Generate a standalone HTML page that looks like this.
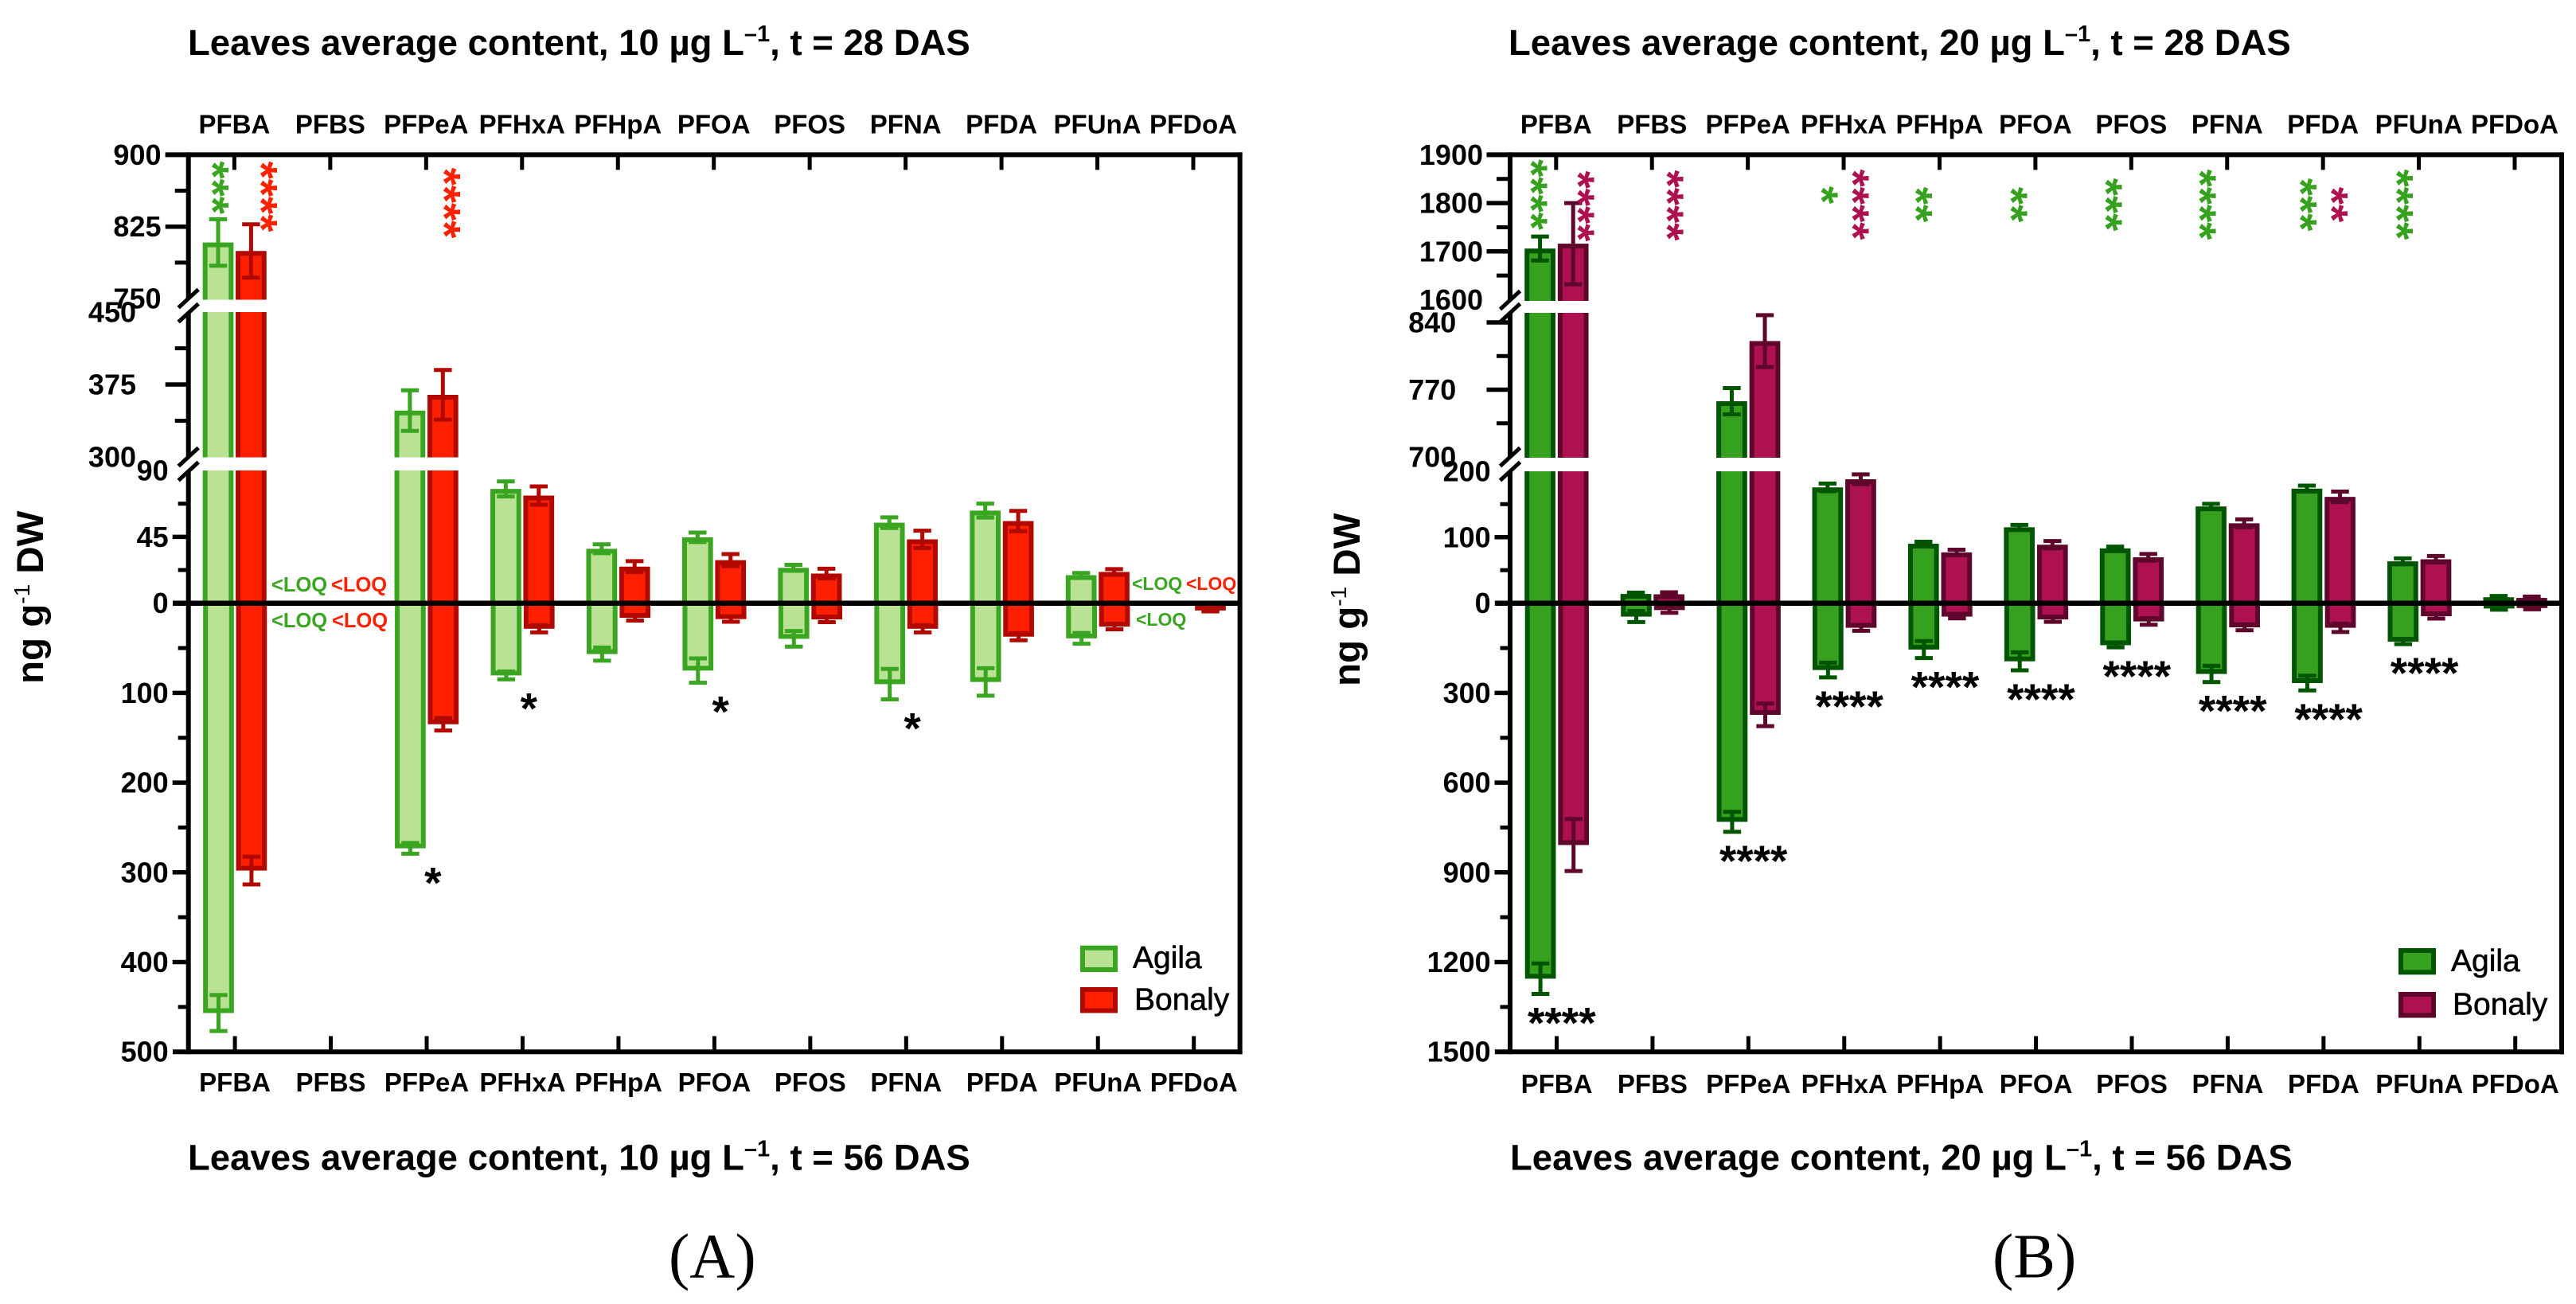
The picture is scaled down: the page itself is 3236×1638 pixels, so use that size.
<!DOCTYPE html>
<html lang="en">
<head>
<meta charset="utf-8">
<title>Leaves average content of PFAS</title>
<style>
html,body{margin:0;padding:0;background:#fff;}
svg{display:block;}
text{font-family:"Liberation Sans",Arial,sans-serif;}
.title{font-size:45.5px;font-weight:bold;fill:#000;}
.ylab{font-size:47.5px;font-weight:bold;fill:#000;}
.panel{font-family:"Liberation Serif",serif;font-size:79px;fill:#000;}
.leg{font-size:39px;fill:#000;stroke:#000;stroke-width:.6px;}
.loq{font-size:25.5px;font-weight:bold;}
.loqs{font-size:23px;font-weight:bold;}
</style>
</head>
<body>
<svg id="chart" xmlns="http://www.w3.org/2000/svg" width="3236" height="1638" viewBox="0 0 3236 1638">
<rect x="0" y="0" width="3236" height="1638" fill="#fff"/>
<g id="panelA"></g>
<g id="panelB"></g>

<text class="title" x="236" y="69">Leaves average content, 10 µg L<tspan dy="-17" font-size="29">–1</tspan><tspan dy="17">, t = 28 DAS</tspan></text>
<text class="title" x="236" y="1469.5">Leaves average content, 10 µg L<tspan dy="-17" font-size="29">–1</tspan><tspan dy="17">, t = 56 DAS</tspan></text>
<text class="title" x="1895" y="69">Leaves average content, 20 µg L<tspan dy="-17" font-size="29">–1</tspan><tspan dy="17">, t = 28 DAS</tspan></text>
<text class="title" x="1897" y="1469.5">Leaves average content, 20 µg L<tspan dy="-17" font-size="29">–1</tspan><tspan dy="17">, t = 56 DAS</tspan></text>

<text class="ylab" transform="translate(54 859) rotate(-90)">ng g<tspan dy="-17" font-size="28" font-weight="normal">-1</tspan><tspan dy="17"> DW</tspan></text>
<text class="ylab" transform="translate(1708 862) rotate(-90)">ng g<tspan dy="-17" font-size="28" font-weight="normal">-1</tspan><tspan dy="17"> DW</tspan></text>

<text class="panel" x="840" y="1604.5">(A)</text>
<text class="panel" x="2503" y="1604.5">(B)</text>

<g>
<text class="loq" x="341" y="743" fill="#3aa520">&lt;LOQ</text>
<text class="loq" x="416" y="743" fill="#ff2000">&lt;LOQ</text>
<text class="loq" x="341" y="788" fill="#3aa520">&lt;LOQ</text>
<text class="loq" x="417" y="788" fill="#ff2000">&lt;LOQ</text>
<text class="loqs" x="1422" y="741" fill="#3aa520">&lt;LOQ</text>
<text class="loqs" x="1490" y="741" fill="#ff2000">&lt;LOQ</text>
<text class="loqs" x="1427" y="786" fill="#3aa520">&lt;LOQ</text>
</g>

<g>
<rect x="1360" y="1190.7" width="41" height="27.3" fill="#b9e295" stroke="#3aa520" stroke-width="6"/>
<text class="leg" x="1423" y="1216">Agila</text>
<rect x="1360" y="1243" width="41" height="26.5" fill="#ff2000" stroke="#b10900" stroke-width="6"/>
<text class="leg" x="1425" y="1268.5">Bonaly</text>
</g>
<g>
<rect x="3016" y="1194" width="41" height="27.3" fill="#36a11f" stroke="#005500" stroke-width="6"/>
<text class="leg" x="3079" y="1220">Agila</text>
<rect x="3016" y="1249" width="41" height="26.5" fill="#ae1150" stroke="#5f062d" stroke-width="6"/>
<text class="leg" x="3081" y="1274.5">Bonaly</text>
</g>
</svg>

<script>
// ---------- data (ng/g DW) ----------
const categories = ['PFBA','PFBS','PFPeA','PFHxA','PFHpA','PFOA','PFOS','PFNA','PFDA','PFUnA','PFDoA'];

// Panel A, 10 ug/L
const a28Agila     = [808.5, null, 348, 77.5, 36.9, 44.7, 24, 54.6, 62.8, 19, null];
const a28AgilaErr  = [24.2, null, 21, 5.1, 3, 3.2, 2, 3.6, 4.7, 1.5, null];
const a28Bonaly    = [799.6, null, 364.3, 73, 24.8, 29.2, 20.1, 43.3, 55.7, 21.2, null];
const a28BonalyErr = [27.8, null, 25.7, 6.2, 3.7, 4.1, 3.3, 5.9, 6.9, 1.9, null];
const a56Agila     = [456.8, null, 273.2, 80.5, 56.7, 75.1, 39.7, 90.2, 87.8, 39.2, null];
const a56AgilaErr  = [20.1, null, 6, 4.4, 7.3, 13.6, 8.7, 17, 15.3, 6, null];
const a56Bonaly    = [298, null, 134.9, 28.5, 16.3, 17.7, 18.1, 28.5, 37.3, 26.1, 8.1];
const a56BonalyErr = [15.5, null, 7, 4, 3, 3, 3, 4, 4, 3, 1];
const a28StarsAgila  = [3,0,0,0,0,0,0,0,0,0,0];
const a28StarsBonaly = [4,0,4,0,0,0,0,0,0,0,0];
const a56Stars       = [0,0,1,1,0,1,0,1,0,0,0];

// Panel B, 20 ug/L
const b28Agila     = [1705.9, 14, 758, 175.4, 90, 115, 83, 146.5, 173.5, 63.4, 9];
const b28AgilaErr  = [24.8, 2, 13.7, 5.8, 3, 3.5, 2.7, 4, 4.5, 4.5, 2];
const b28Bonaly    = [1716, 13.5, 820.6, 187.7, 77, 88.6, 69.5, 121, 161, 66.5, 8];
const b28BonalyErr = [84, 3, 27, 7.4, 4, 5.5, 5, 6, 8, 5, 2];
const b56Agila     = [1255.5, 44.8, 731, 223.4, 155, 194.3, 140.5, 236.5, 267, 128.8, 17.7];
const b56AgilaErr  = [51, 18.3, 33.5, 24.7, 28.4, 30, 7, 27, 24.7, 8, 4];
const b56Bonaly    = [808.6, 23, 373.4, 82.2, 44.8, 54.3, 61, 80.8, 82.2, 43.5, 16.3];
const b56BonalyErr = [87, 9, 37.8, 10, 6, 8, 11, 10, 14, 8, 4];
const b28StarsAgila  = [4,0,0,1,2,2,3,4,3,4,0];
const b28StarsBonaly = [4,4,0,4,0,0,0,0,2,0,0];
const b56Stars       = [4,0,4,4,4,4,4,4,4,4,0];

// Axis tick labels
const aTopTicks = [900,825,750];
const aMidTicks = [450,375,300];
const aLowTicks = [90,45,0];
const aNegTicks = [100,200,300,400,500];
const bTopTicks = [1900,1800,1700,1600];
const bMidTicks = [840,770,700];
const bLowTicks = [200,100,0];
const bNegTicks = [300,600,900,1200,1500];
// Minor tick values
const aTopMinor = [862.5,787.5];
const aMidMinor = [412.5,337.5];
const aLowMinor = [67.5,22.5];
const aNegMinor = [50,150,250,350,450];
const bTopMinor = [1850,1750,1650];
const bMidMinor = [805,735];
const bLowMinor = [150,50];
const bNegMinor = [150,450,750,1050,1350];
// Major ticks drawn as marks
const aMajorDrawn = [825,375,45];
const aNegDrawn = [100,200,300,400];
const bMajorDrawn = [1800,1700,840,770,100];
const bNegDrawn = [300,600,900,1200];

// ---------- drawing helpers ----------
const NS = 'http://www.w3.org/2000/svg';

function addRect(parent, name, x, y, w, h, fill) {
  const el = document.createElementNS(NS, 'rect');
  
  
  el.setAttribute('x', x);
  el.setAttribute('y', y);
  el.setAttribute('width', Math.max(0, w));
  el.setAttribute('height', Math.max(0, h));
  el.setAttribute('fill', fill);
  parent.appendChild(el);
  return el;
}
function addLine(parent, name, x1, y1, x2, y2, color, width) {
  const el = document.createElementNS(NS, 'line');
  
  
  el.setAttribute('x1', x1);
  el.setAttribute('y1', y1);
  el.setAttribute('x2', x2);
  el.setAttribute('y2', y2);
  el.setAttribute('stroke', color);
  el.setAttribute('stroke-width', width);
  parent.appendChild(el);
  return el;
}
function addText(parent, name, str, x, y, size, anchor, color) {
  const el = document.createElementNS(NS, 'text');
  
  
  el.setAttribute('x', x);
  el.setAttribute('y', y);
  el.setAttribute('font-size', size);
  el.setAttribute('font-weight', 'bold');
  el.setAttribute('text-anchor', anchor);
  el.setAttribute('fill', color);
  el.textContent = str;
  parent.appendChild(el);
  return el;
}

// ---------- scales ----------
function makeScale(cfg) {
  return {
    up(v) {
      if (v >= cfg.topMin) return cfg.topBase - (v - cfg.topMin) * (cfg.topBase - cfg.topY) / (cfg.topMax - cfg.topMin);
      if (v >= cfg.midMin) return cfg.midBase - (v - cfg.midMin) * (cfg.midBase - cfg.midTopY) / (cfg.midMax - cfg.midMin);
      return cfg.zeroY - v * (cfg.zeroY - cfg.lowTopY) / cfg.lowMax;
    },
    down(v) { return cfg.zeroY + v * (cfg.bottomY - cfg.zeroY) / cfg.negMax; },
    x(i) { return cfg.tick0 + i * cfg.tickStep; }
  };
}

function drawBar(g, cfg, s, label, i, cx, v, err, dir, fill, edge) {
  if (v === null) return;
  const y = dir > 0 ? s.up : s.down;
  const end = y(v);
  const w = cfg.barW, b = cfg.border;
  const top = Math.min(end, cfg.zeroY), bottom = Math.max(end, cfg.zeroY);
  addRect(g, 'bar-' + label + '-' + categories[i].toLowerCase(), cx - w / 2, top, w, bottom - top, edge);
  if (dir > 0) addRect(g, 'bar-fill-' + label, cx - w / 2 + b, top + b, w - 2 * b, bottom - top - b, fill);
  else addRect(g, 'bar-fill-' + label, cx - w / 2 + b, top, w - 2 * b, bottom - top - b, fill);
}
function drawErr(g, s, label, cx, v, err, dir, edge) {
  if (v === null) return;
  const y = dir > 0 ? s.up : s.down;
  const y1 = y(v + err), y2 = y(v - err);
  addLine(g, 'error-stem-' + label, cx, y1, cx, y2, edge, 5);
  addLine(g, 'error-cap-' + label, cx - 11.2, y1, cx + 11.2, y1, edge, 5);
  addLine(g, 'error-cap-' + label, cx - 11.2, y2, cx + 11.2, y2, edge, 5);
}

function drawStarText(g, name, cx, cy, count, size, color, rotated) {
  const str = '*'.repeat(count);
  const el = addText(g, name, str, cx, cy + 0.48 * size, size, 'middle', color);
  if (rotated) el.setAttribute('transform', 'rotate(90 ' + cx + ' ' + cy + ')');
  return el;
}

function drawPanel(g, cfg, d) {
  const s = makeScale(cfg);
  const black = '#000';

  // Bars
  categories.forEach((c, i) => {
    const ax = s.x(i) + cfg.agilaDx, bx = s.x(i) + cfg.bonalyDx;
    drawBar(g, cfg, s, 'agila-28', i, ax, d.agila28[i], d.agila28Err[i], 1, cfg.agilaFill, cfg.agilaEdge);
    drawBar(g, cfg, s, 'bonaly-28', i, bx, d.bonaly28[i], d.bonaly28Err[i], 1, cfg.bonalyFill, cfg.bonalyEdge);
    drawBar(g, cfg, s, 'agila-56', i, ax + 0.5, d.agila56[i], d.agila56Err[i], -1, cfg.agilaFill, cfg.agilaEdge);
    drawBar(g, cfg, s, 'bonaly-56', i, bx + 0.5, d.bonaly56[i], d.bonaly56Err[i], -1, cfg.bonalyFill, cfg.bonalyEdge);
  });

  // White axis-break bands
  addRect(g, 'axis-break-band-upper', cfg.axisX + 3, cfg.band1[0], cfg.rightX - cfg.axisX - 6, cfg.band1[1] - cfg.band1[0], '#fff');
  addRect(g, 'axis-break-band-lower', cfg.axisX + 3, cfg.band2[0], cfg.rightX - cfg.axisX - 6, cfg.band2[1] - cfg.band2[0], '#fff');

  // Error bars
  categories.forEach((c, i) => {
    const ax = s.x(i) + cfg.agilaDx, bx = s.x(i) + cfg.bonalyDx;
    drawErr(g, s, 'agila-28', ax, d.agila28[i], d.agila28Err[i], 1, cfg.agilaEdge);
    drawErr(g, s, 'bonaly-28', bx, d.bonaly28[i], d.bonaly28Err[i], 1, cfg.bonalyEdge);
    drawErr(g, s, 'agila-56', ax + 0.5, d.agila56[i], d.agila56Err[i], -1, cfg.agilaEdge);
    drawErr(g, s, 'bonaly-56', bx + 0.5, d.bonaly56[i], d.bonaly56Err[i], -1, cfg.bonalyEdge);
  });

  // Frame
  const ax = cfg.axisX;
  addLine(g, 'y-axis-top-segment', ax, cfg.topY - 3, ax, cfg.slash[0], black, 6);
  addLine(g, 'y-axis-middle-segment', ax, cfg.slash[1], ax, cfg.slash[2], black, 6);
  addLine(g, 'y-axis-bottom-segment', ax, cfg.slash[3], ax, cfg.bottomY + 3, black, 6);
  addLine(g, 'top-axis-line', cfg.topLeft, cfg.topY, cfg.rightX + 3, cfg.topY, black, 6);
  addLine(g, 'bottom-axis-line', cfg.lowLeft, cfg.bottomY, cfg.rightX + 3, cfg.bottomY, black, 6);
  addLine(g, 'right-axis-line', cfg.rightX, cfg.topY - 3, cfg.rightX, cfg.bottomY + 3, black, 6);
  addLine(g, 'zero-line', cfg.lowLeft, cfg.zeroY, cfg.rightX, cfg.zeroY, black, 6.5);

  // Break slashes
  cfg.slash.forEach(y => {
    addLine(g, 'axis-break-slash', ax - 12.5, y + 11.5, ax + 12.5, y - 11.5, black, 5);
  });

  // Y ticks
  d.majorDrawn.forEach(v => {
    const y = s.up(v);
    const len = v >= cfg.midMin ? cfg.majorUp : cfg.majorLow;
    addLine(g, 'y-major-tick', ax - len, y, ax, y, black, 5.5);
  });
  d.negDrawn.forEach(v => {
    addLine(g, 'y-major-tick', ax - cfg.majorLow, s.down(v), ax, s.down(v), black, 5.5);
  });
  d.topMinor.concat(d.midMinor).forEach(v => {
    addLine(g, 'y-minor-tick', ax - cfg.minorUp, s.up(v), ax, s.up(v), black, 5);
  });
  d.lowMinor.forEach(v => {
    addLine(g, 'y-minor-tick', ax - cfg.minorLow, s.up(v), ax, s.up(v), black, 5);
  });
  d.negMinor.forEach(v => {
    addLine(g, 'y-minor-tick', ax - cfg.minorLow, s.down(v), ax, s.down(v), black, 5);
  });

  // Y tick labels
  const ls = 36, shift = 12.5;
  d.topTicks.forEach(v => {
    addText(g, 'y-tick-label-' + v, v, cfg.labelTopX, s.up(v) + shift, ls, 'end', black);
  });
  d.midTicks.forEach(v => {
    addText(g, 'y-tick-label-' + v, v, cfg.labelMidX, s.up(v) + shift, ls, 'end', black);
  });
  d.lowTicks.forEach(v => {
    addText(g, 'y-tick-label-' + v, v, cfg.labelLowX, s.up(v) + shift, ls, 'end', black);
  });
  d.negTicks.forEach(v => {
    addText(g, 'y-tick-label-' + v, v, cfg.labelLowX, s.down(v) + shift, ls, 'end', black);
  });

  // X ticks and category labels
  categories.forEach((c, i) => {
    const x = s.x(i);
    addLine(g, 'top-x-tick', x, cfg.topY, x, cfg.topY + 19, black, 5);
    addLine(g, 'bottom-x-tick', x + 0.7, cfg.bottomY, x + 0.7, cfg.bottomY - 19.7, black, 5);
    addText(g, 'top-category-label-' + c.toLowerCase(), c, x, cfg.catTopY, 33, 'middle', black);
    addText(g, 'bottom-category-label-' + c.toLowerCase(), c, x + 0.7, cfg.catBottomY, 33, 'middle', black);
  });

  // Significance markers below the 56 DAS bars, anchored to the Agila error cap
  d.stars56.forEach((n, i) => {
    if (!n) return;
    const capY = s.down(d.agila56[i] + d.agila56Err[i]);
    drawStarText(g, 'significance-56-' + categories[i].toLowerCase(), s.x(i) + cfg.starDx, capY + 28.5, n, 55, black, false);
  });
  return s;
}

// ---------- panel definitions ----------
const cfgA = {
  axisX: 236.7, rightX: 1557.6, topY: 194.4, bottomY: 1321.2, zeroY: 757.7,
  tick0: 294.4, tickStep: 120.46, agilaDx: -20.4, bonalyDx: 21, barW: 38.7, border: 6,
  topMin: 750, topMax: 900, topBase: 375,
  midMin: 300, midMax: 450, midBase: 574, midTopY: 392,
  lowMax: 90, lowTopY: 591, negMax: 500,
  band1: [376.5, 392], band2: [574.5, 591], slash: [375, 393, 574, 592],
  topLeft: 207.6, lowLeft: 217, majorUp: 29, minorUp: 17, majorLow: 20, minorLow: 13,
  labelTopX: 202.5, labelMidX: 171, labelLowX: 211.7,
  catTopY: 167.3, catBottomY: 1371, starDx: 8.5,
  agilaFill: '#b9e295', agilaEdge: '#3aa520', bonalyFill: '#ff2000', bonalyEdge: '#b10900'
};
const cfgB = {
  axisX: 1897, rightX: 3218, topY: 194.4, bottomY: 1321.2, zeroY: 757.7,
  tick0: 1954.8, tickStep: 120.42, agilaDx: -20.2, bonalyDx: 21.4, barW: 38.7, border: 6,
  topMin: 1600, topMax: 1900, topBase: 376.5,
  midMin: 700, midMax: 840, midBase: 574, midTopY: 405,
  lowMax: 200, lowTopY: 591.8, negMax: 1500,
  band1: [378, 393], band2: [575, 592], slash: [377, 393, 574, 592],
  topLeft: 1867.5, lowLeft: 1877.8, majorUp: 29.5, minorUp: 17, majorLow: 19.5, minorLow: 12.5,
  labelTopX: 1863, labelMidX: 1829.3, labelLowX: 1872.7,
  catTopY: 167.3, catBottomY: 1373, starDx: 7,
  agilaFill: '#36a11f', agilaEdge: '#005500', bonalyFill: '#ae1150', bonalyEdge: '#5f062d'
};

const gA = document.getElementById('panelA');
const gB = document.getElementById('panelB');

const scaleA = drawPanel(gA, cfgA, {
  agila28: a28Agila, agila28Err: a28AgilaErr, bonaly28: a28Bonaly, bonaly28Err: a28BonalyErr,
  agila56: a56Agila, agila56Err: a56AgilaErr, bonaly56: a56Bonaly, bonaly56Err: a56BonalyErr,
  topTicks: aTopTicks, midTicks: aMidTicks, lowTicks: aLowTicks, negTicks: aNegTicks,
  topMinor: aTopMinor, midMinor: aMidMinor, lowMinor: aLowMinor, negMinor: aNegMinor,
  majorDrawn: aMajorDrawn, negDrawn: aNegDrawn, stars56: a56Stars
});
const scaleB = drawPanel(gB, cfgB, {
  agila28: b28Agila, agila28Err: b28AgilaErr, bonaly28: b28Bonaly, bonaly28Err: b28BonalyErr,
  agila56: b56Agila, agila56Err: b56AgilaErr, bonaly56: b56Bonaly, bonaly56Err: b56BonalyErr,
  topTicks: bTopTicks, midTicks: bMidTicks, lowTicks: bLowTicks, negTicks: bNegTicks,
  topMinor: bTopMinor, midMinor: bMidMinor, lowMinor: bLowMinor, negMinor: bNegMinor,
  majorDrawn: bMajorDrawn, negDrawn: bNegDrawn, stars56: b56Stars
});

// ---------- 28 DAS significance columns (annotation placement) ----------
function topStars(g, s, counts, i, dx, cy, color, label) {
  drawStarText(g, 'significance-28-' + label + '-' + categories[i].toLowerCase(), s.x(i) + dx, cy, counts[i], 57, color, true);
}
topStars(gA, scaleA, a28StarsAgila, 0, -19, 235.7, '#3aa520', 'agila');
topStars(gA, scaleA, a28StarsBonaly, 0, 42, 247, '#ff2000', 'bonaly');
topStars(gA, scaleA, a28StarsBonaly, 2, 31, 255, '#ff2000', 'bonaly');

topStars(gB, scaleB, b28StarsAgila, 0, -23, 244.5, '#36a11f', 'agila');
topStars(gB, scaleB, b28StarsBonaly, 0, 36, 259, '#ae1150', 'bonaly');
topStars(gB, scaleB, b28StarsBonaly, 1, 27.5, 258, '#ae1150', 'bonaly');
topStars(gB, scaleB, b28StarsAgila, 3, -19.4, 245, '#36a11f', 'agila');
topStars(gB, scaleB, b28StarsBonaly, 3, 20, 257, '#ae1150', 'bonaly');
topStars(gB, scaleB, b28StarsAgila, 4, -21, 257, '#36a11f', 'agila');
topStars(gB, scaleB, b28StarsAgila, 5, -22, 257, '#36a11f', 'agila');
topStars(gB, scaleB, b28StarsAgila, 6, -23.5, 257, '#36a11f', 'agila');
topStars(gB, scaleB, b28StarsAgila, 7, -26, 257, '#36a11f', 'agila');
topStars(gB, scaleB, b28StarsAgila, 8, -20, 257, '#36a11f', 'agila');
topStars(gB, scaleB, b28StarsBonaly, 8, 19.4, 257, '#ae1150', 'bonaly');
topStars(gB, scaleB, b28StarsAgila, 9, -19, 257, '#36a11f', 'agila');
</script>
</body>
</html>
